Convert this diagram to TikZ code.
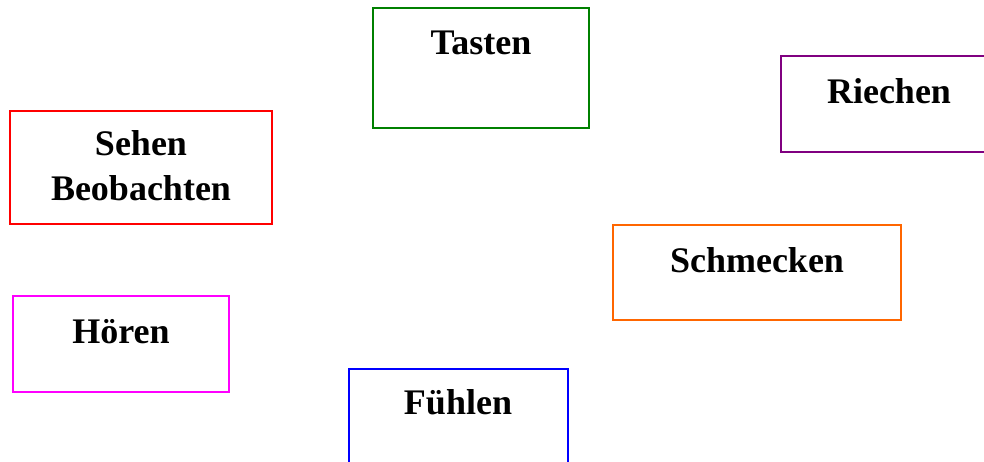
\documentclass[tikz,border=0pt]{standalone}
\usepackage{fontspec}
\setmainfont{Liberation Serif}
\definecolor{tgreen}{RGB}{0,128,0}
\definecolor{tpurple}{RGB}{128,0,128}
\definecolor{torange}{RGB}{255,102,0}
\definecolor{tred}{RGB}{255,0,0}
\definecolor{tmagenta}{RGB}{255,0,255}
\definecolor{tblue}{RGB}{0,0,255}
\tikzset{
  sensebox/.style={draw, line width=2pt, fill=white},
  sensetext/.style={anchor=base, inner sep=0pt, font=\fontsize{36}{40}\selectfont\bfseries}
}
\begin{document}
\begin{tikzpicture}[x=1pt,y=-1pt]
  \useasboundingbox (0,0) rectangle (984,461);
  \clip (0,0) rectangle (984,461);
  % frames
  \draw[sensebox, draw=tgreen]   (373,8)   rectangle (589,128);
  \draw[sensebox, draw=tpurple]  (781,56)  rectangle (998,152);
  \draw[sensebox, draw=tred]     (10,111)  rectangle (272,224);
  \draw[sensebox, draw=torange]  (613,225) rectangle (901,320);
  \draw[sensebox, draw=tmagenta] (13,296)  rectangle (229,392);
  \draw[sensebox, draw=tblue]    (349,369) rectangle (568,475);
  % labels
  \node[sensetext] (tasten)    at (481,54)  {Tasten};
  \node[sensetext] (riechen)   at (889,103) {Riechen};
  \node[sensetext] (sehen)     at (141,155) {Sehen};
  \node[sensetext] (beob)      at (141,200) {Beobachten};
  \node[sensetext] (schmecken) at (757,272) {Schmecken};
  \node[sensetext] (hoeren)    at (121,343) {Hören};
  \node[sensetext] (fuehlen)   at (458,414) {Fühlen};
\end{tikzpicture}
\end{document}
